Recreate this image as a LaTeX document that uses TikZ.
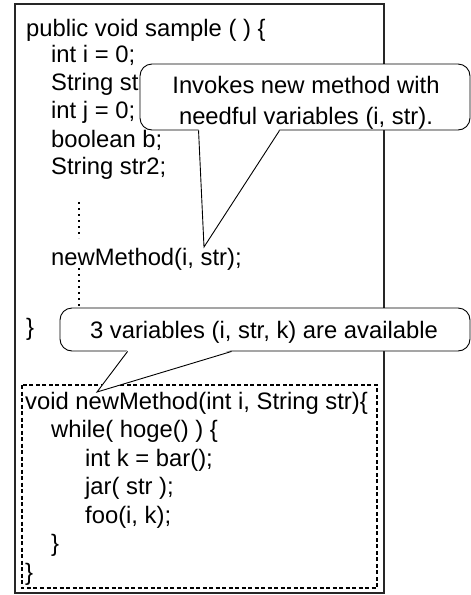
\documentclass[tikz,border=0pt]{standalone}
\usepackage{fontspec}
\setmainfont{Liberation Sans}
\usetikzlibrary{calc}
\tikzset{
  code/.style={anchor=base west, inner sep=0pt, font=\fontsize{23.8}{28}\selectfont},
  callout/.style={draw, fill=white, rounded corners=12pt, line width=0.9pt, inner sep=0pt},
  notetext/.style={align=center, inner sep=0pt, font=\fontsize{23.8}{31}\selectfont},
  pointer/.style={line width=0.9pt, line join=miter},
  vdots/.style={line width=1.6pt, dash pattern=on 2pt off 4pt},
  frame/.style={line width=1.1pt, draw=black!85},
  extracted/.style={line width=1.6pt, dash pattern=on 4pt off 2.5pt},
}

\begin{document}
\begin{tikzpicture}[x=1pt, y=-1pt]
  \useasboundingbox (0,0) rectangle (471,595);
  \draw[frame] (15,4) rectangle (384,593);
  % original method
  \node[code] (sig) at (26,36) {public void sample ( ) \{};
  \node[code] (vari) at (51,62) {int i = 0;};
  \node[code] (varstr) at (51,90) {String str};
  \node[code] (varj) at (51,118) {int j = 0;};
  \node[code] (varb) at (51,147) {boolean b;};
  \node[code] (varstrb) at (51,174) {String str2;};
  \draw[vdots] (79,202) -- (79,238);
  \node[code] (call) at (51,265) {newMethod(i, str);};
  \draw[vdots] (79,268) -- (79,307);
  \node[code] (close) at (26,335) {\}};
  % extracted method
  \draw[extracted] (22,385) rectangle (377,588);
  \node[code] (newsig) at (25,409) {void newMethod(int i, String str)\{};
  \node[code] (loop) at (51,437.5) {while( hoge() ) \{};
  \node[code] (vark) at (85,466) {int k = bar();};
  \node[code] (jar) at (85,494.5) {jar( str );};
  \node[code] (foo) at (85,523) {foo(i, k);};
  \node[code] (loopend) at (51,551.5) {\}};
  \node[code] (newend) at (25,580) {\}};
  % callouts
  \node[callout, minimum width=330pt, minimum height=66pt] (note1) at (305,97) {};
  \node[notetext] (note1txt) at ($(note1)+(1,6)$) {Invokes new method with\\needful variables (i, str).};
  \coordinate (tip1) at (204,247);
  \fill[white] ($(note1.south west)+(59,-1.5)$) -- (tip1) -- ($(note1.south west)+(140,-1.5)$) -- cycle;
  \draw[pointer] ($(note1.south west)+(59,0)$) -- (tip1) -- ($(note1.south west)+(140,0)$);
  \node[callout, minimum width=410pt, minimum height=43pt] (note2) at (265,329.5) {};
  \node[notetext] (note2txt) at ($(note2)+(-1,2.5)$) {3 variables (i, str, k) are available};
  \coordinate (tip2) at (97,392);
  \fill[white] ($(note2.south west)+(68,-1.5)$) -- (tip2) -- ($(note2.south west)+(172,-1.5)$) -- cycle;
  \draw[pointer] ($(note2.south west)+(68,0)$) -- (tip2) -- ($(note2.south west)+(172,0)$);
\end{tikzpicture}
\end{document}
